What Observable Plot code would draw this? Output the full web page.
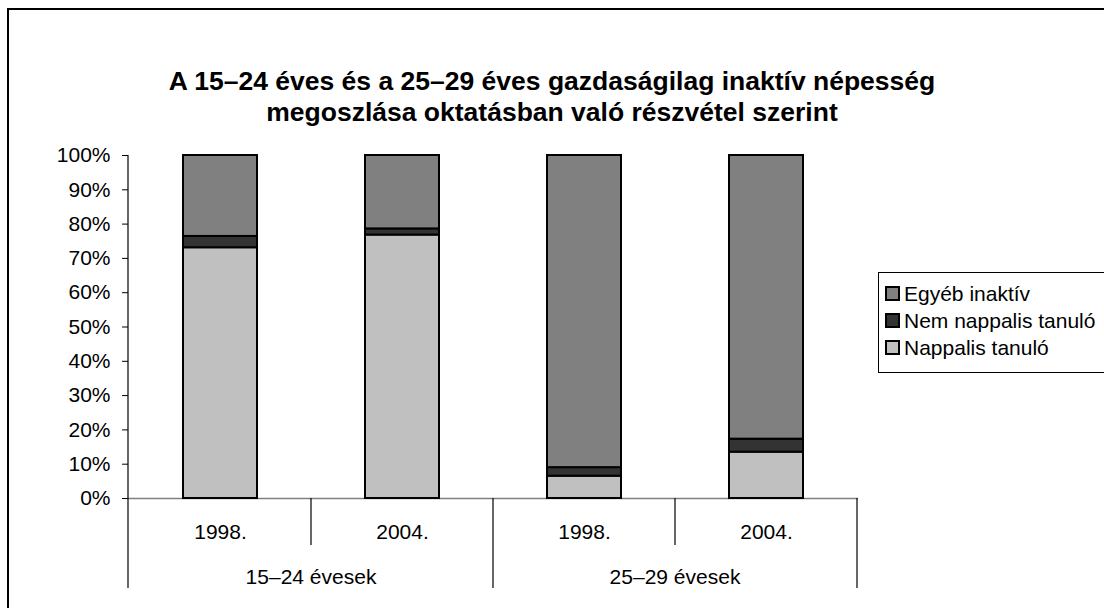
<!DOCTYPE html>
<html>
<head>
<meta charset="utf-8">
<script src="https://cdn.jsdelivr.net/npm/d3@7"></script>
<script src="https://cdn.jsdelivr.net/npm/@observablehq/plot@0.6"></script>
<style>
  html, body { margin: 0; padding: 0; background: #fff; }
  #wrap { position: relative; width: 1104px; height: 608px; overflow: hidden; background: #fff;
          font-family: "Liberation Sans", Arial, sans-serif; }
  #border { position: absolute; left: 7px; top: 8px; width: 1300px; height: 800px; border: 2px solid #000; box-sizing: border-box; }
  #title { position: absolute; left: 0; top: 66px; width: 1104px; text-align: center; font-weight: bold;
           font-size: 26.5px; line-height: 31px; color: #000; }
  #chart { position: absolute; left: 0; top: 0; }
  #legend { position: absolute; left: 878px; top: 272px; width: 260px; height: 101px; border: 1px solid #000;
            box-sizing: border-box; background: #fff; }
  .item { position: absolute; left: 6px; height: 27px; display: flex; align-items: center; font-size: 21px; white-space: nowrap; }
  .sw { width: 11px; height: 11px; border: 2px solid #000; margin-right: 4px; }
</style>
</head>
<body>
<div id="wrap">
  <div id="border"></div>
  <div id="chart"></div>
  <div id="title">A 15–24 éves és a 25–29 éves gazdaságilag inaktív népesség<br>megoszlása oktatásban való részvétel szerint</div>
  <div id="legend"></div>
</div>
<script>
// ---- data ----
const groups = ["15–24 évesek", "15–24 évesek", "25–29 évesek", "25–29 évesek"];
const years = ["1998.", "2004.", "1998.", "2004."];
const nappalis = [73.1, 76.8, 6.5, 13.5];
const nemNappalis = [3.3, 1.8, 2.5, 3.8];
const egyeb = [23.6, 21.4, 91.0, 82.7];
const seriesNames = ["Nappalis tanuló", "Nem nappalis tanuló", "Egyéb inaktív"];
const seriesColors = ["#c0c0c0", "#333333", "#808080"];
const yTicks = [0, 10, 20, 30, 40, 50, 60, 70, 80, 90, 100];
const legendOrder = ["Egyéb inaktív", "Nem nappalis tanuló", "Nappalis tanuló"];

// ---- table ----
const keys = groups.map((g, i) => g + "|" + years[i]);
const seriesValues = [nappalis, nemNappalis, egyeb];
const rows = [];
keys.forEach((k, i) => {
  seriesNames.forEach((s, j) => rows.push({key: k, series: s, value: seriesValues[j][i]}));
});

const W = 1104, H = 608;
const plot = Plot.plot({
  width: W, height: H,
  marginLeft: 128, marginRight: 246, marginTop: 155, marginBottom: 110,
  style: {fontFamily: "'Liberation Sans', Arial, sans-serif", background: "transparent", overflow: "visible"},
  x: {domain: keys, padding: 0, axis: null},
  y: {domain: [0, 100], axis: null},
  color: {domain: seriesNames, range: seriesColors},
  marks: [
    Plot.axisY({ticks: yTicks, tickFormat: d => d + "%", tickSize: 6, tickPadding: 12, fontSize: 21, stroke: "#000", color: "#000", label: null}),
    Plot.ruleY([0], {stroke: "#808080", strokeWidth: 1.5}),
    Plot.barY(rows, Plot.stackY({order: seriesNames, x: "key", y: "value", fill: "series",
      stroke: "#000", strokeWidth: 2, insetLeft: 54, insetRight: 54})),
    Plot.axisX({tickSize: 0, tickPadding: 26, fontSize: 21, tickFormat: k => k.split("|")[1], color: "#000", label: null})
  ]
});
document.getElementById("chart").appendChild(plot);

// separators, axis line and group labels from the plot's scales
const xs = plot.scale("x"), ys = plot.scale("y");
const svg = d3.select(plot);
const x0 = xs.range[0];
const yBase = ys.apply(0), yTop = ys.apply(100);
const g = svg.append("g").attr("stroke", "#000").attr("stroke-width", 1.2);
g.append("line").attr("x1", x0).attr("x2", x0).attr("y1", yTop).attr("y2", yBase + 90);
keys.forEach((k, i) => {
  if (i === 0) return;
  const xb = xs.apply(k);
  const groupEdge = groups[i] !== groups[i - 1];
  g.append("line").attr("x1", xb).attr("x2", xb).attr("y1", yBase).attr("y2", yBase + (groupEdge ? 90 : 47));
});
const xe = xs.apply(keys[keys.length - 1]) + xs.bandwidth;
g.append("line").attr("x1", xe).attr("x2", xe).attr("y1", yBase).attr("y2", yBase + 90);

const uniqueGroups = [...new Set(groups)];
uniqueGroups.forEach(gr => {
  const ks = keys.filter((k, i) => groups[i] === gr);
  const cx = (xs.apply(ks[0]) + xs.apply(ks[ks.length - 1]) + xs.bandwidth) / 2;
  svg.append("text").attr("x", cx).attr("y", yBase + 86).attr("text-anchor", "middle")
    .attr("font-size", 21).attr("fill", "#000").text(gr);
});

// legend
const legend = document.getElementById("legend");
legendOrder.forEach((name, i) => {
  const it = document.createElement("div");
  it.className = "item";
  it.style.top = (7 + i * 27) + "px";
  const sw = document.createElement("div");
  sw.className = "sw";
  sw.style.background = seriesColors[seriesNames.indexOf(name)];
  it.appendChild(sw);
  it.appendChild(document.createTextNode(name));
  legend.appendChild(it);
});
</script>
</body>
</html>
